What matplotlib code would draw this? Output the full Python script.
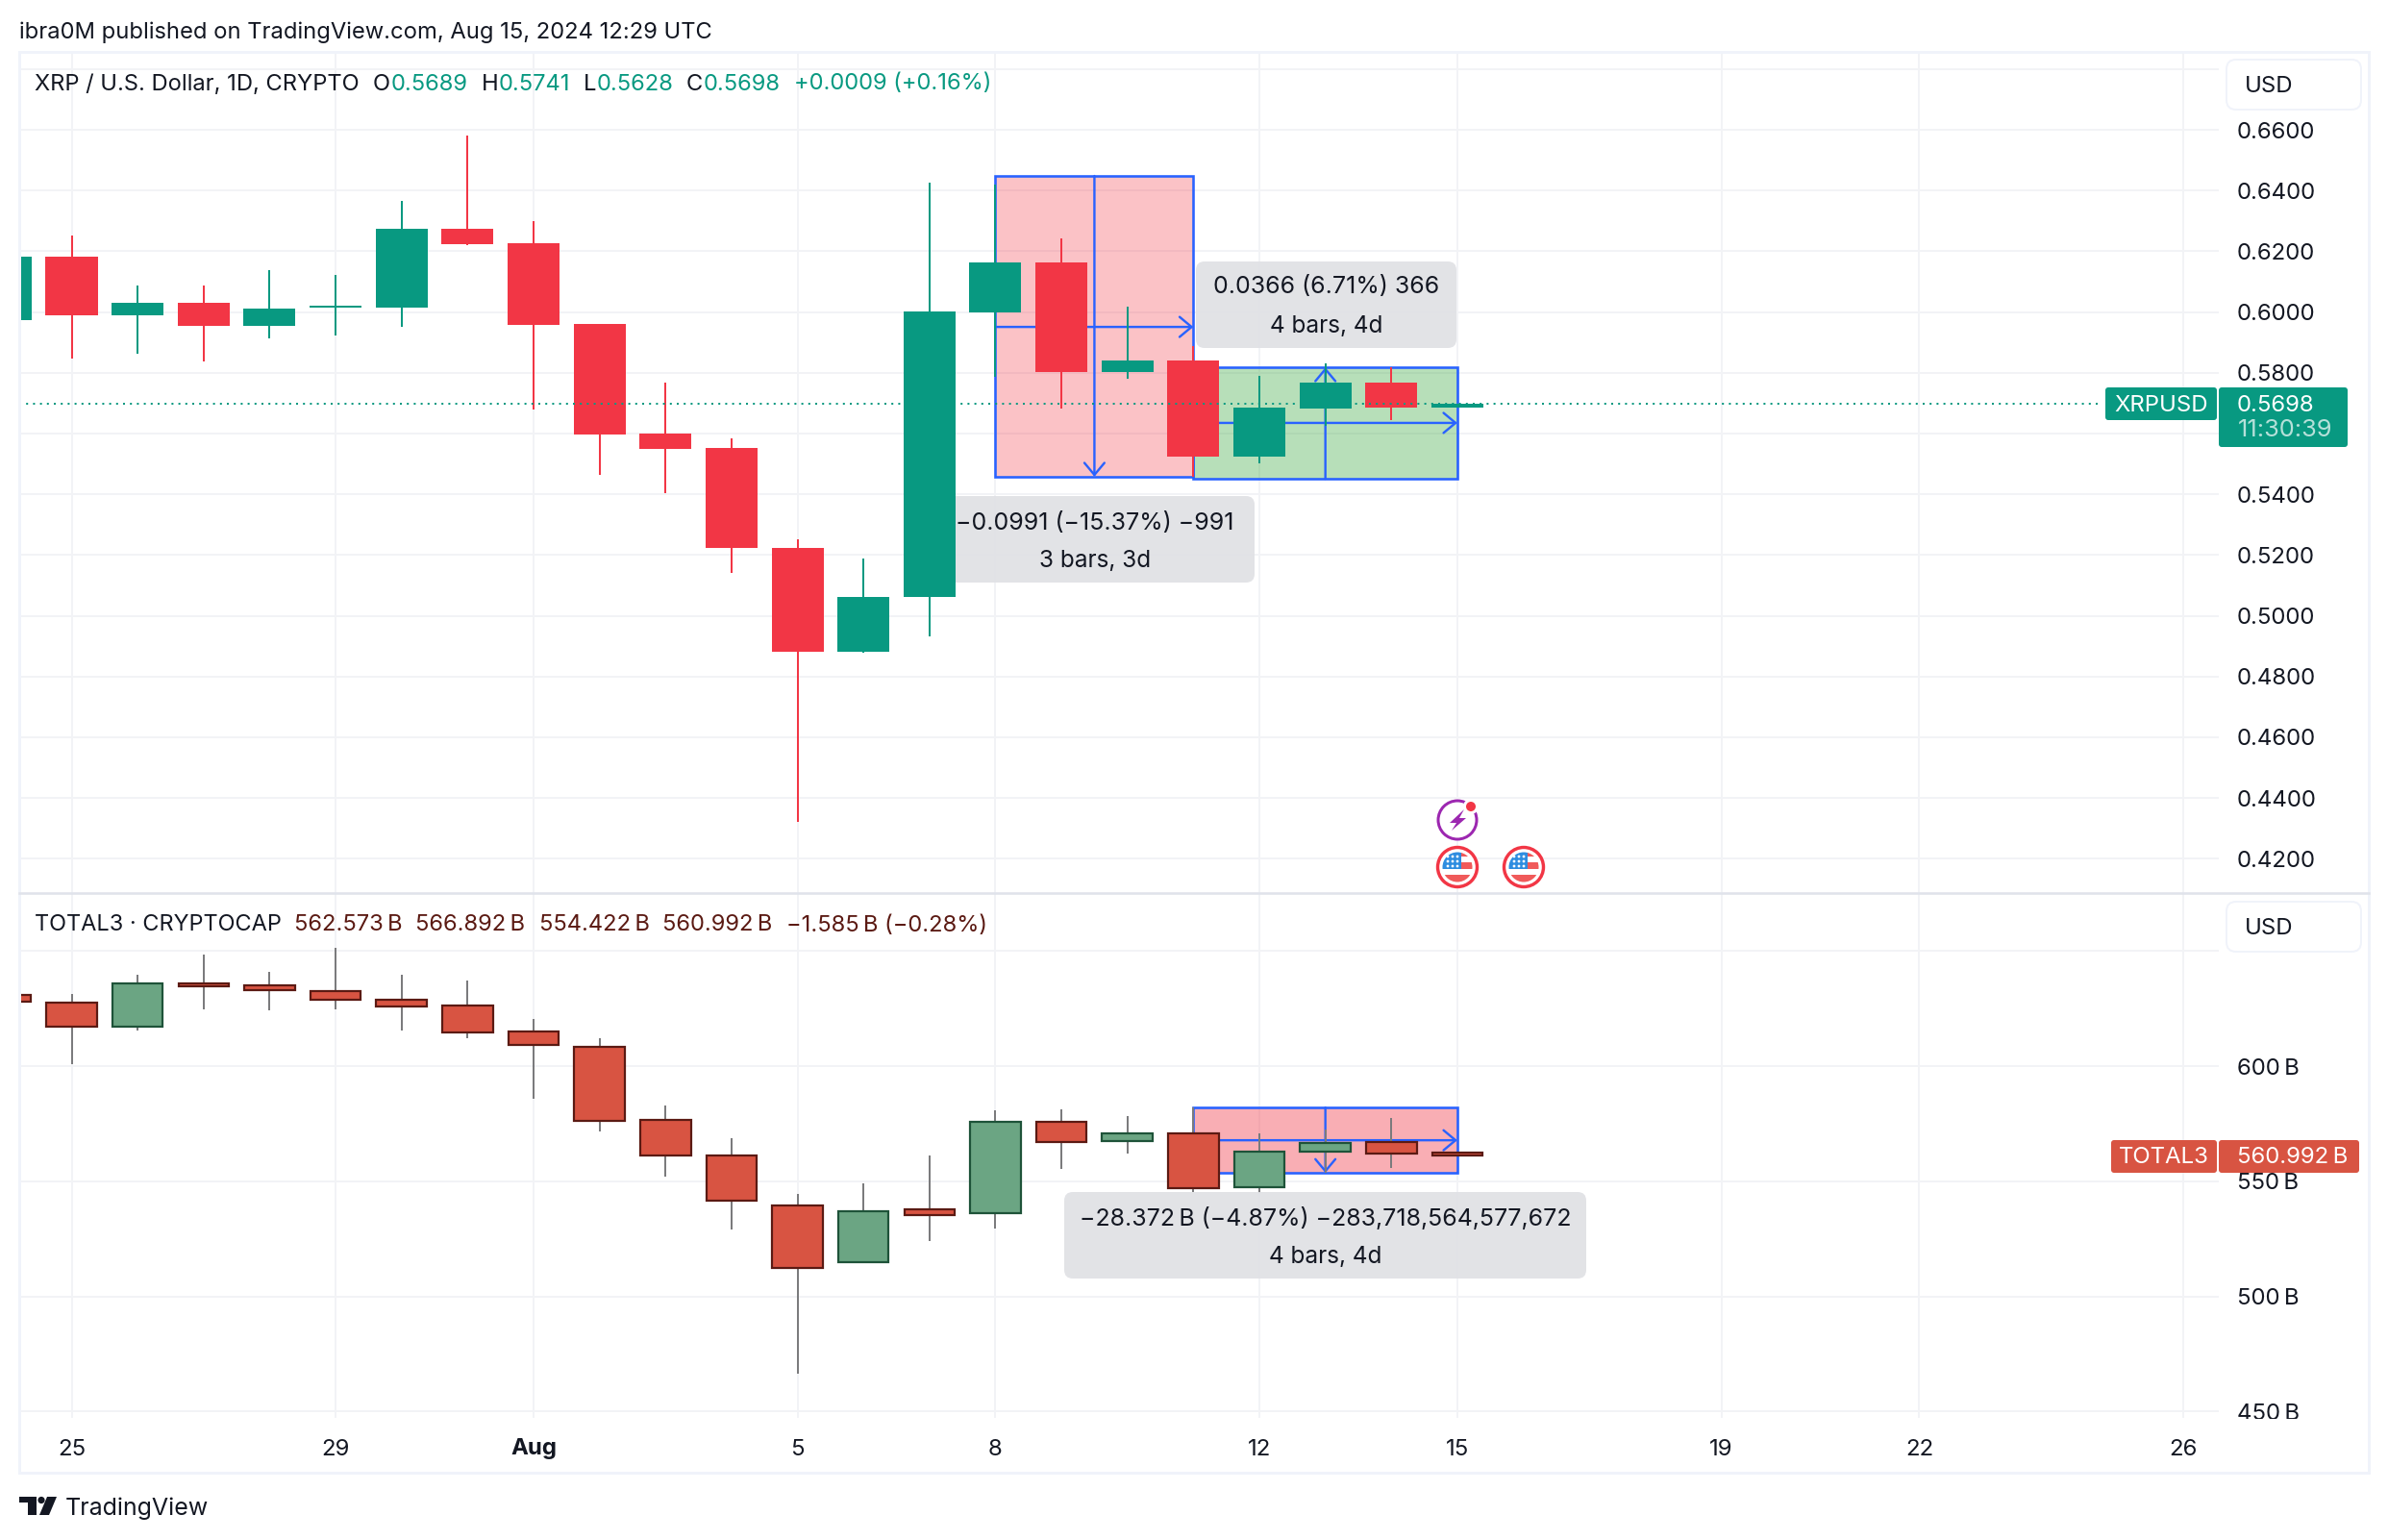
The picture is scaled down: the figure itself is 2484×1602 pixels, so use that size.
import matplotlib
matplotlib.use("Agg")
import matplotlib.pyplot as plt
from matplotlib.patches import Rectangle, Circle, FancyBboxPatch, Polygon

W, H = 2484, 1602
plt.rcParams['font.family'] = ['Inter', 'DejaVu Sans']
PX = 72 / 100  # points per pixel at dpi 100

# ---------- data ----------
days = list(range(-1, 22))
xrp_open  = [.5974,.6182,.5989,.6030,.5954,.6015,.6015,.6274,.6227,.5961,.5600,.5553,.5223,.4882,.5062,.5999,.6163,.5803,.5841,.5524,.5682,.5768,.5685]
xrp_close = [.6182,.5989,.6030,.5954,.6011,.6021,.6274,.6223,.5958,.5597,.5550,.5223,.4882,.5062,.6002,.6163,.5803,.5841,.5524,.5685,.5768,.5685,.5698]
xrp_high  = [.6250,.6252,.6087,.6087,.6138,.6122,.6366,.6581,.6299,.5961,.5768,.5584,.5252,.5189,.6426,.6420,.6242,.6018,.5888,.5790,.5831,.5818,.5698]
xrp_low   = [.5900,.5848,.5864,.5838,.5914,.5924,.5952,.6220,.5680,.5465,.5404,.5141,.4322,.4877,.4932,.5787,.5682,.5780,.5458,.5502,.5625,.5644,.5685]

tot_open  = [630.9,627.4,617.3,636.1,635.2,632.4,628.7,626.1,614.9,608.5,576.5,561.0,539.5,515.0,537.8,536.2,575.9,567.5,570.6,547.6,562.9,567.2,562.57]
tot_close = [627.8,617.3,635.7,634.7,632.8,628.9,625.9,614.5,609.0,576.2,561.2,541.7,512.2,537.0,535.4,575.8,567.2,570.6,547.1,562.7,566.8,562.2,560.99]
tot_high  = [633.0,631.2,639.5,648.3,640.8,651.4,639.5,637.1,620.3,612.0,583.0,568.5,544.3,548.9,561.3,581.0,581.2,578.2,582.0,570.7,572.4,577.4,562.57]
tot_low   = [625.0,601.0,615.6,624.8,624.4,624.8,615.6,612.2,585.8,571.5,551.9,529.1,466.6,514.5,523.9,529.5,555.3,562.0,545.3,545.0,553.6,555.7,560.99]

price_ticks = [.42,.44,.46,.48,.50,.52,.54,.56,.58,.60,.62,.64,.66,.68]
price_labels = ['0.4200','0.4400','0.4600','0.4800','0.5000','0.5200','0.5400','0.5600','0.5800','0.6000','0.6200','0.6400','0.6600','']
cap_ticks = [450,500,550,600,650]
cap_labels = ['450\u2009B','500\u2009B','550\u2009B','600\u2009B','650\u2009B']
date_ticks = [0,4,7,11,14,18,21,25,28,32]
date_labels = ['25','29','Aug','5','8','12','15','19','22','26']
last_price = 0.5698

# measure tools: x-start, x-end, y-low, y-high, arrow y
m1 = (14, 17, .5458, .6448, .5951)
m2 = (17, 21, .5451, .5818, .5635)
m3 = (17, 21, 553.6, 582.0, 567.8)

# ---------- colours ----------
GREEN, RED = '#089981', '#f23645'
TGREEN, TRED = '#6ba583', '#d85442'
EGREEN, ERED = '#1e5339', '#5b1a13'
GRID = '#f2f3f6'
FRAME = '#f0f3fa'
INK = '#131722'
BLUE = '#2962ff'
LABEL = '#e0e1e5'

fig = plt.figure(figsize=(W/100, H/100), dpi=100, facecolor='white')

def pane(x0, y0, x1, y1):
    return fig.add_axes([x0/W, 1-y1/H, (x1-x0)/W, (y1-y0)/H])

def px_day(x):
    return (x-74.5)/68.64

ax1 = pane(20, 54, 2308, 929)
ax2 = pane(20, 929, 2308, 1475)
ax1.set_ylim(0.66-(929-135)/3160, 0.66+(135-54)/3160)
ax2.set_ylim(600-(1475-1109)/2.396, 600+(1109-929)/2.396)

for ax in (ax1, ax2):
    ax.set_xlim(px_day(20), px_day(2308))
    ax.set_facecolor('none')
    for s in ax.spines.values():
        s.set_visible(False)
    ax.set_axisbelow(True)
    ax.grid(True, color=GRID, lw=2*PX)
    ax.yaxis.tick_right()
    ax.tick_params(length=0, labelsize=24*PX, colors=INK)
    ax.tick_params(axis='y', pad=19*PX)
    ax.set_xticks(date_ticks)

ax1.set_yticks(price_ticks, price_labels)
ax2.set_yticks(cap_ticks, cap_labels)
ax1.tick_params(labelbottom=False)
ax2.set_xticklabels(date_labels)
ax2.tick_params(axis='x', pad=21.5*PX)
for t in ax2.get_xticklabels():
    if t.get_text() == 'Aug':
        t.set_fontweight('bold')

# ---------- measure tools ----------
def measure(ax, m, color, alpha, vdir):
    x0, x1, lo, hi, ay = m
    ax.add_patch(Rectangle((x0, lo), x1-x0, hi-lo, fc=color, alpha=alpha, ec='none', zorder=2))
    ax.add_patch(Rectangle((x0, lo), x1-x0, hi-lo, fc='none', ec=BLUE, lw=2.6*PX, zorder=3))
    style = dict(arrowstyle='->,head_length=9,head_width=7.5', mutation_scale=1, color=BLUE,
                 lw=2.4*PX, shrinkA=0, shrinkB=0)
    a = ax.annotate('', xy=(x1, ay), xytext=(x0, ay), arrowprops=style, zorder=3)
    xm = (x0+x1)/2
    start, end = (hi, lo) if vdir < 0 else (lo, hi)
    b = ax.annotate('', xy=(xm, end), xytext=(xm, start), arrowprops=style, zorder=3)
    a.set_zorder(3); b.set_zorder(3)

measure(ax1, m1, RED, 0.3, -1)
measure(ax1, m2, '#4caf50', 0.4, 1)
measure(ax2, m3, RED, 0.4, -1)

# ---------- candles ----------
for i, d in enumerate(days):
    o, c, h, l = xrp_open[i], xrp_close[i], xrp_high[i], xrp_low[i]
    col = GREEN if c >= o else RED
    ax1.vlines(d, l, h, color=col, lw=2*PX, zorder=5)
    ax1.bar(d, abs(c-o), bottom=min(o, c), width=0.787, color=col, lw=0, zorder=6)

    o, c, h, l = tot_open[i], tot_close[i], tot_high[i], tot_low[i]
    up = c >= o
    ax2.vlines(d, l, h, color='#7b7b7d', lw=2*PX, zorder=5)
    ax2.bar(d, abs(c-o), bottom=min(o, c), width=0.765, color=TGREEN if up else TRED,
            edgecolor=EGREEN if up else ERED, lw=2.2*PX, zorder=6)

ax1.hlines(last_price, px_day(20), px_day(2187), color=GREEN, lw=2*PX, linestyles=[(0, (1, 2.6))], zorder=7)

# ---------- overlay with chart furniture, in pixel space ----------
ov = fig.add_axes([0, 0, 1, 1], zorder=10)
ov.set_xlim(0, W); ov.set_ylim(H, 0); ov.axis('off'); ov.patch.set_alpha(0)

# masks for price labels cut by the pane edges
ov.add_patch(Rectangle((2310, 931), 150, 67, fc='white', ec='none'))
ov.add_patch(Rectangle((2310, 1476), 150, 14, fc='white', ec='none'))

# frame and separator
ov.add_patch(Rectangle((20, 54), 2444, 1478, fc='none', ec=FRAME, lw=3*PX))
ov.plot([20, 2464], [929, 929], color='#e0e3eb', lw=2.6*PX)

def T(x, y, s, size=24, color=INK, ha='left', **kw):
    return ov.text(x, y, s, fontsize=size*PX, color=color, ha=ha, va='center', **kw)

def box(x0, y0, x1, y1, fc, ec='none', r=6, alpha=1, lw=2, z=2):
    return FancyBboxPatch((x0+r, y0+r), x1-x0-2*r, y1-y0-2*r,
                          boxstyle=f'round,pad={r},rounding_size={r}',
                          fc=fc, ec=ec, lw=lw*PX, alpha=alpha, zorder=z,
                          transform=ov.transData)

def rounded(*args, **kw):
    ov.add_patch(box(*args, **kw))

T(20, 33.5, 'ibra0M published on TradingView.com, Aug 15, 2024 12:29 UTC', size=23.75)

# legend rows
T(36, 87.5, 'XRP / U.S. Dollar, 1D, CRYPTO', size=23.7)
for x, s in [(388,'O'),(501,'H'),(607,'L'),(714,'C')]:
    T(x, 87.5, s, size=23.7)
for x, s in [(407,'0.5689'),(519,'0.5741'),(621,'0.5628'),(732,'0.5698'),(826,'+0.0009 (+0.16%)')]:
    T(x, 87.5, s, color=GREEN, size=23.7)
T(36, 962.5, 'TOTAL3 · CRYPTOCAP', size=23.5)
for x, s in [(306,'562.573\u2009B'),(432,'566.892\u2009B'),(561,'554.422\u2009B'),(689,'560.992\u2009B'),(818,'\u22121.585\u2009B (\u22120.28%)')]:
    T(x, 962.5, s, color=ERED, size=23.7)

# USD buttons
for y0, y1 in [(62, 114), (938, 990)]:
    rounded(2316, y0, 2456, y1, 'white', ec=FRAME, r=10)
    T(2335, (y0+y1)/2+1.5, 'USD')

# price tags
def tag(x0, x1, y0, y1, color):
    rounded(x0, y0, x1, y1, color, r=3)
tag(2190, 2306, 403, 437, GREEN)
tag(2308, 2442, 403, 465, GREEN)
T(2248, 421.5, 'XRPUSD', color='white', ha='center', zorder=3)
T(2327, 421.5, '0.5698', color='white', zorder=3)
T(2328, 448, '11:30:39', color='#b5e0d9', zorder=3, size=25.5)
tag(2196, 2306, 1186, 1220, TRED)
tag(2308, 2454, 1186, 1220, TRED)
T(2251, 1204.5, 'TOTAL3', color='white', ha='center', zorder=3)
T(2327, 1204.5, '560.992\u2009B', color='white', zorder=3)

# measure labels
LS = 24.9
rounded(1244, 272, 1515, 362, LABEL, r=9, alpha=0.93, z=1)
T(1380, 299, '0.0366 (6.71%) 366', ha='center', size=LS)
T(1380, 339, '4 bars, 4d', ha='center', size=24.3)

# this one sits under the candles of the pane
ax1.add_patch(box(973, 516, 1305, 606, LABEL, r=9, alpha=0.93, z=4))
T(1139, 544, '\u22120.0991 (\u221215.37%) \u2212991', ha='center', size=LS)
T(1139, 583, '3 bars, 3d', ha='center', size=24.3)

rounded(1107, 1240, 1650, 1330, LABEL, r=9, alpha=0.93, z=1)
T(1379, 1268, '\u221228.372\u2009B (\u22124.87%) \u2212283,718,564,577,672', ha='center', size=LS)
T(1379, 1308, '4 bars, 4d', ha='center', size=24.3)

# event icons
ev_xy = (1516, 853)
ov.add_patch(Circle(ev_xy, 20, fc='white', ec='#9c27b0', lw=3*PX))
ov.add_patch(Polygon([(1523,842),(1508,856),(1515,856),(1510,864),(1525,851),(1518,851)], fc='#9c27b0', ec='none'))
ov.add_patch(Circle((1530, 839), 8, fc='white', ec='none'))
ov.add_patch(Circle((1530, 839), 5, fc=RED, ec='none'))

for cx in (1516, 1585):
    cy = 902
    ov.add_patch(Circle((cx, cy), 20.5, fc='white', ec=RED, lw=3.4*PX))
    clip = Circle((cx, cy), 15.5, transform=ov.transData)
    ov.add_patch(clip); clip.set_visible(False)
    parts = [
        Rectangle((cx+4, cy-16), 14, 5, fc='#f05a5a', ec='none'),
        Rectangle((cx+4, cy-5), 14, 7, fc='#f05a5a', ec='none'),
        Rectangle((cx-16, cy+8), 32, 9, fc='#f05a5a', ec='none'),
        Rectangle((cx-16, cy-16), 20, 18, fc='#2e8de0', ec='none'),
    ]
    for p in parts:
        ov.add_patch(p); p.set_clip_path(clip)
    for sy in (cy-11, cy-6, cy-1):
        for sx in (cx-10, cx-5, cx):
            ov.add_patch(Circle((sx, sy), 1.4, fc='white', ec='none'))

# logo
ov.add_patch(Polygon([(20,1557),(38,1557),(38,1576),(29,1576),(29,1563),(20,1563)], fc=INK, ec='none'))
ov.add_patch(Circle((43, 1560.5), 3.6, fc=INK, ec='none'))
ov.add_patch(Polygon([(49,1557),(59,1557),(51,1576),(41,1576)], fc=INK, ec='none'))
T(68, 1569.5, 'TradingView', size=25)

fig.savefig('out.png', dpi=100)
